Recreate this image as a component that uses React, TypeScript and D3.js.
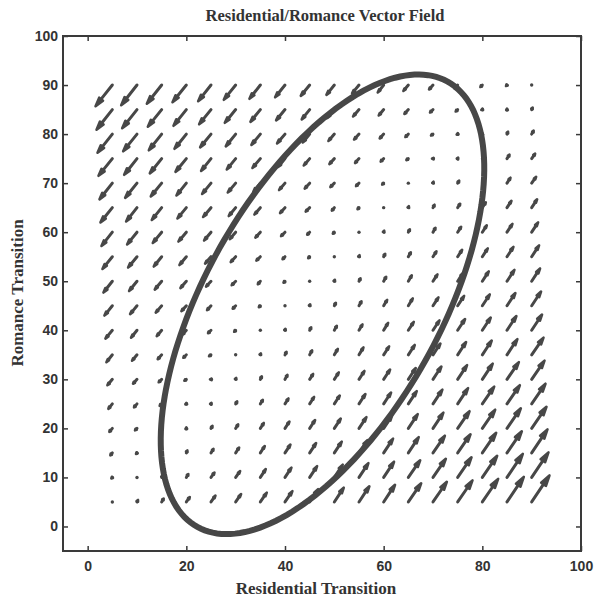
import React, { useEffect, useRef } from 'react';
import * as d3 from 'd3';

// grid of the quiver plot
const X_VALUES = [5, 10, 15, 20, 25, 30, 35, 40, 45, 50, 55, 60, 65, 70, 75, 80, 85, 90];
const Y_VALUES = [5, 10, 15, 20, 25, 30, 35, 40, 45, 50, 55, 60, 65, 70, 75, 80, 85, 90];

// horizontal component, one row per y value (bottom row first)
const U_ROWS = [
    [0.0, 0.2, 0.4, 0.7, 0.9, 1.1, 1.3, 1.5, 1.7, 1.9, 2.1, 2.3, 2.6, 2.8, 3.0, 3.2, 3.4, 3.6],
    [-0.2, 0.0, 0.2, 0.4, 0.7, 0.9, 1.1, 1.3, 1.5, 1.7, 1.9, 2.1, 2.4, 2.6, 2.8, 3.0, 3.2, 3.4],
    [-0.4, -0.2, 0.0, 0.2, 0.5, 0.7, 0.9, 1.1, 1.3, 1.5, 1.7, 1.9, 2.1, 2.4, 2.6, 2.8, 3.0, 3.2],
    [-0.6, -0.4, -0.2, 0.0, 0.3, 0.5, 0.7, 0.9, 1.1, 1.3, 1.5, 1.7, 1.9, 2.1, 2.4, 2.6, 2.8, 3.0],
    [-0.8, -0.6, -0.4, -0.2, 0.1, 0.3, 0.5, 0.7, 0.9, 1.1, 1.3, 1.5, 1.7, 1.9, 2.1, 2.4, 2.6, 2.8],
    [-1.0, -0.8, -0.6, -0.4, -0.2, 0.1, 0.3, 0.5, 0.7, 0.9, 1.1, 1.3, 1.5, 1.7, 1.9, 2.1, 2.4, 2.6],
    [-1.2, -1.0, -0.8, -0.6, -0.4, -0.1, 0.1, 0.3, 0.5, 0.7, 0.9, 1.1, 1.3, 1.5, 1.7, 1.9, 2.1, 2.4],
    [-1.4, -1.2, -1.0, -0.8, -0.6, -0.3, -0.1, 0.1, 0.3, 0.5, 0.7, 0.9, 1.1, 1.3, 1.5, 1.7, 1.9, 2.1],
    [-1.6, -1.4, -1.2, -1.0, -0.8, -0.6, -0.3, -0.1, 0.1, 0.3, 0.5, 0.7, 0.9, 1.1, 1.3, 1.5, 1.7, 1.9],
    [-1.8, -1.6, -1.4, -1.2, -1.0, -0.8, -0.5, -0.3, -0.1, 0.1, 0.3, 0.5, 0.7, 0.9, 1.1, 1.3, 1.5, 1.7],
    [-2.0, -1.8, -1.6, -1.4, -1.2, -1.0, -0.8, -0.5, -0.3, -0.1, 0.1, 0.3, 0.5, 0.7, 0.9, 1.1, 1.3, 1.5],
    [-2.2, -2.0, -1.8, -1.6, -1.4, -1.2, -1.0, -0.8, -0.5, -0.3, -0.1, 0.1, 0.3, 0.5, 0.7, 0.9, 1.1, 1.3],
    [-2.4, -2.2, -2.0, -1.8, -1.6, -1.4, -1.2, -1.0, -0.8, -0.5, -0.3, -0.1, 0.1, 0.3, 0.5, 0.7, 0.9, 1.1],
    [-2.6, -2.4, -2.2, -2.0, -1.8, -1.6, -1.4, -1.2, -1.0, -0.8, -0.6, -0.3, -0.1, 0.1, 0.3, 0.5, 0.7, 0.9],
    [-2.8, -2.6, -2.4, -2.2, -2.0, -1.8, -1.6, -1.4, -1.2, -1.0, -0.8, -0.6, -0.4, -0.2, 0.1, 0.3, 0.5, 0.7],
    [-3.0, -2.8, -2.6, -2.4, -2.2, -2.0, -1.8, -1.6, -1.4, -1.2, -1.0, -0.8, -0.6, -0.4, -0.2, 0.0, 0.2, 0.4],
    [-3.2, -3.0, -2.8, -2.6, -2.4, -2.2, -2.0, -1.8, -1.6, -1.4, -1.2, -1.0, -0.8, -0.6, -0.4, -0.2, 0.0, 0.2],
    [-3.4, -3.2, -3.0, -2.8, -2.6, -2.4, -2.2, -2.0, -1.8, -1.6, -1.4, -1.2, -1.0, -0.8, -0.6, -0.4, -0.2, 0.0],
];

// vertical component, same layout
const V_ROWS = [
    [0.1, 0.4, 0.7, 1.0, 1.3, 1.6, 1.9, 2.2, 2.6, 2.9, 3.2, 3.5, 3.8, 4.1, 4.4, 4.7, 5.1, 5.4],
    [-0.2, 0.1, 0.4, 0.7, 1.0, 1.3, 1.7, 2.0, 2.3, 2.6, 2.9, 3.2, 3.5, 3.8, 4.1, 4.4, 4.8, 5.1],
    [-0.5, -0.2, 0.2, 0.5, 0.8, 1.1, 1.4, 1.7, 2.0, 2.3, 2.6, 2.9, 3.2, 3.5, 3.8, 4.1, 4.4, 4.8],
    [-0.7, -0.4, -0.1, 0.2, 0.5, 0.8, 1.1, 1.4, 1.7, 2.0, 2.3, 2.6, 2.9, 3.2, 3.5, 3.8, 4.1, 4.4],
    [-1.0, -0.7, -0.4, -0.1, 0.2, 0.5, 0.8, 1.1, 1.4, 1.7, 2.0, 2.3, 2.6, 2.9, 3.2, 3.5, 3.8, 4.1],
    [-1.2, -0.9, -0.6, -0.3, 0.0, 0.3, 0.6, 0.9, 1.1, 1.4, 1.7, 2.0, 2.3, 2.6, 2.9, 3.2, 3.5, 3.8],
    [-1.5, -1.2, -0.9, -0.6, -0.3, 0.0, 0.3, 0.6, 0.9, 1.2, 1.5, 1.7, 2.0, 2.3, 2.6, 2.9, 3.2, 3.5],
    [-1.7, -1.5, -1.2, -0.9, -0.6, -0.3, 0.0, 0.3, 0.6, 0.9, 1.2, 1.5, 1.7, 2.0, 2.3, 2.6, 2.9, 3.2],
    [-2.0, -1.7, -1.4, -1.1, -0.9, -0.6, -0.3, 0.0, 0.3, 0.6, 0.9, 1.2, 1.5, 1.7, 2.0, 2.3, 2.6, 2.9],
    [-2.3, -2.0, -1.7, -1.4, -1.1, -0.8, -0.6, -0.3, 0.0, 0.3, 0.6, 0.9, 1.2, 1.4, 1.7, 2.0, 2.3, 2.6],
    [-2.5, -2.2, -2.0, -1.7, -1.4, -1.1, -0.8, -0.5, -0.3, 0.0, 0.3, 0.6, 0.9, 1.1, 1.4, 1.7, 2.0, 2.3],
    [-2.8, -2.5, -2.2, -1.9, -1.7, -1.4, -1.1, -0.8, -0.5, -0.3, 0.0, 0.3, 0.6, 0.9, 1.1, 1.4, 1.7, 2.0],
    [-3.0, -2.8, -2.5, -2.2, -1.9, -1.7, -1.4, -1.1, -0.8, -0.6, -0.3, 0.0, 0.3, 0.6, 0.8, 1.1, 1.4, 1.7],
    [-3.3, -3.0, -2.7, -2.5, -2.2, -1.9, -1.7, -1.4, -1.1, -0.8, -0.6, -0.3, 0.0, 0.3, 0.5, 0.8, 1.1, 1.3],
    [-3.5, -3.3, -3.0, -2.7, -2.5, -2.2, -1.9, -1.7, -1.4, -1.1, -0.9, -0.6, -0.3, 0.0, 0.2, 0.5, 0.8, 1.0],
    [-3.8, -3.5, -3.3, -3.0, -2.7, -2.5, -2.2, -1.9, -1.7, -1.4, -1.1, -0.9, -0.6, -0.3, -0.1, 0.2, 0.5, 0.7],
    [-4.1, -3.8, -3.5, -3.3, -3.0, -2.7, -2.5, -2.2, -2.0, -1.7, -1.4, -1.2, -0.9, -0.6, -0.4, -0.1, 0.2, 0.4],
    [-4.3, -4.1, -3.8, -3.5, -3.3, -3.0, -2.8, -2.5, -2.2, -2.0, -1.7, -1.5, -1.2, -0.9, -0.7, -0.4, -0.2, 0.1],
];

// the closed trajectory drawn over the field
const ELLIPSE_CENTER = [47.6, 45.3];
const ELLIPSE_AXES = [52.0, 23.8];
const ELLIPSE_ANGLE = 60.8; // degrees

const X_TICKS = [0, 20, 40, 60, 80, 100];
const Y_TICKS = [0, 10, 20, 30, 40, 50, 60, 70, 80, 90, 100];

const INK = '#474747';

function App() {
    const svgRef = useRef(null);

    useEffect(() => {
        document.body.style.margin = '0';
        const svg = d3.select(svgRef.current);
        svg.selectAll('*').remove();

        const left = 63, right = 581, top = 36, bottom = 551;
        const x = d3.scaleLinear().domain([-5, 100]).range([left, right]);
        const y = d3.scaleLinear().domain([-5, 100]).range([bottom, top]);

        // Vectors (tail at the grid point, like quiver)
        const vectors = [];
        Y_VALUES.forEach((yv, j) => {
            X_VALUES.forEach((xv, i) => {
                vectors.push({ x: xv, y: yv, u: U_ROWS[j][i], v: V_ROWS[j][i] });
            });
        });

        const gv = svg.append('g');
        vectors.forEach(d => {
            const x0 = x(d.x), y0 = y(d.y);
            const x1 = x(d.x + d.u), y1 = y(d.y + d.v);
            const dx = x1 - x0, dy = y1 - y0;
            const len = Math.hypot(dx, dy);
            if (len < 0.5) {
                gv.append('circle').attr('cx', x0).attr('cy', y0).attr('r', 1.7).attr('fill', INK);
                return;
            }
            const ux = dx / len, uy = dy / len;
            const hl = Math.max(len * 0.33, 1.5);
            const hw = Math.max(len * 0.09, 0.8);
            const bx = x1 - ux * hl, by = y1 - uy * hl;
            gv.append('line')
                .attr('x1', x0).attr('y1', y0).attr('x2', bx).attr('y2', by)
                .attr('stroke', INK).attr('stroke-width', 3).attr('stroke-linecap', 'round');
            gv.append('path')
                .attr('d', `M${x1},${y1}L${bx - uy * hw},${by + ux * hw}L${bx + uy * hw},${by - ux * hw}Z`)
                .attr('fill', INK).attr('stroke', INK).attr('stroke-width', 2.6)
                .attr('stroke-linejoin', 'round');
        });

        // Ellipse
        const phi = ELLIPSE_ANGLE * Math.PI / 180;
        const pts = d3.range(0, 2 * Math.PI, Math.PI / 90).map(t => {
            const a = ELLIPSE_AXES[0] * Math.cos(t), b = ELLIPSE_AXES[1] * Math.sin(t);
            return [
                ELLIPSE_CENTER[0] + a * Math.cos(phi) - b * Math.sin(phi),
                ELLIPSE_CENTER[1] + a * Math.sin(phi) + b * Math.cos(phi),
            ];
        });
        svg.append('path')
            .attr('d', d3.line().x(p => x(p[0])).y(p => y(p[1])).curve(d3.curveLinearClosed)(pts))
            .attr('fill', 'none').attr('stroke', '#474747').attr('stroke-width', 6);

        // Axes, ticks pointing inward on all four sides
        const styleAxis = g => {
            g.select('.domain').remove();
            g.selectAll('line').attr('stroke', '#3a3a3a').attr('stroke-width', 1.5);
            g.selectAll('text')
                .style('font-family', '"Liberation Sans", Arial, sans-serif')
                .style('font-size', '14px').style('font-weight', 'bold').attr('fill', '#333');
        };
        svg.append('g').attr('transform', `translate(0,${bottom})`)
            .call(d3.axisBottom(x).tickValues(X_TICKS).tickSize(-5).tickPadding(10)).call(styleAxis);
        svg.append('g').attr('transform', `translate(0,${top})`)
            .call(d3.axisTop(x).tickValues(X_TICKS).tickSize(-5).tickFormat(() => '')).call(styleAxis);
        svg.append('g').attr('transform', `translate(${left},0)`)
            .call(d3.axisLeft(y).tickValues(Y_TICKS).tickSize(-5).tickPadding(5)).call(styleAxis);
        svg.append('g').attr('transform', `translate(${right},0)`)
            .call(d3.axisRight(y).tickValues(Y_TICKS).tickSize(-5).tickFormat(() => '')).call(styleAxis);

        svg.append('rect')
            .attr('x', left).attr('y', top).attr('width', right - left).attr('height', bottom - top)
            .attr('fill', 'none').attr('stroke', '#3a3a3a').attr('stroke-width', 2);

        // Titles
        const serif = '"Liberation Serif", "Times New Roman", serif';
        svg.append('text').attr('x', 325).attr('y', 21).attr('text-anchor', 'middle')
            .style('font-family', serif).style('font-size', '16.5px').style('font-weight', 'bold')
            .attr('fill', '#333').text('Residential/Romance Vector Field');
        svg.append('text').attr('x', 316).attr('y', 594).attr('text-anchor', 'middle')
            .style('font-family', serif).style('font-size', '17px').style('font-weight', 'bold')
            .attr('fill', '#333').text('Residential Transition');
        svg.append('text').attr('transform', 'translate(23,293) rotate(-90)').attr('text-anchor', 'middle')
            .style('font-family', serif).style('font-size', '17px').style('font-weight', 'bold')
            .attr('fill', '#333').text('Romance Transition');
    }, []);

    return <svg ref={svgRef} width={595} height={597} style={{ display: 'block', background: '#fff' }}></svg>;
}

export default App;
